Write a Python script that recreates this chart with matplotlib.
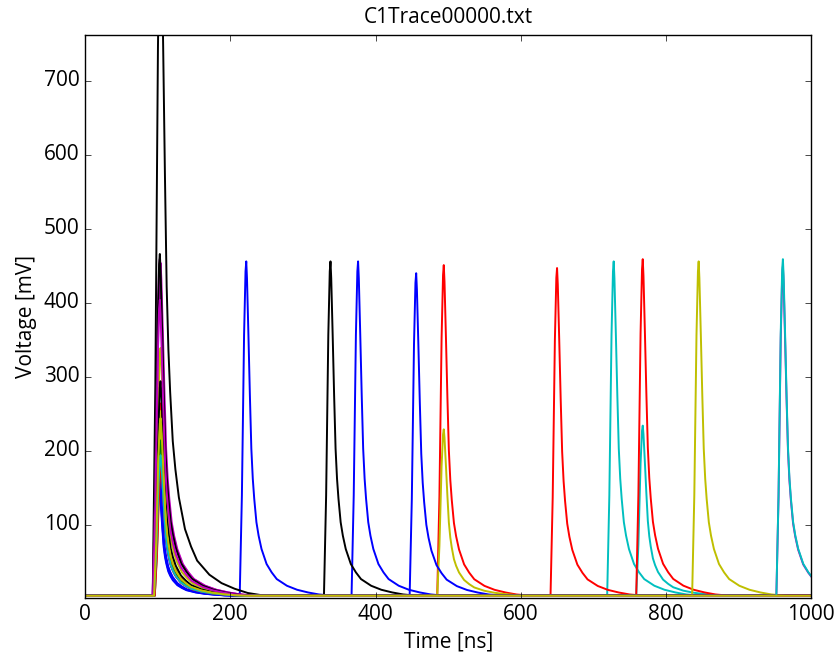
import numpy as np
import matplotlib
matplotlib.use('Agg')
import matplotlib.pyplot as plt

plt.style.use('classic')
plt.rcParams['font.family'] = ['Open Sans', 'DejaVu Sans']
plt.rcParams['font.size'] = 15

# pulse shape: time from peak [ns], fraction of peak height
shape_dt = [-9, -6, -3, -1, 0, 1, 3, 5, 7, 9, 11, 14, 17, 21, 28, 35, 42, 56, 70, 85, 100, 120]
shape_frac = [0, 0.3, 0.78, 0.97, 1.0, 0.95, 0.78, 0.6, 0.44, 0.35, 0.29, 0.22, 0.18,
              0.14, 0.095, 0.07, 0.05, 0.03, 0.018, 0.01, 0.004, 0]

colors = ['b', 'g', 'r', 'c', 'm', 'y', 'k']
n_traces = 27
baseline = 4.0

# first pulse (trigger) of every trace
first_time = [103, 104, 104, 104, 103, 104, 104,
              102, 104, 105, 103, 104, 103, 104,
              102, 104, 104, 105, 103, 104, 103,
              102, 104, 105, 104, 103, 104]
first_amp = [200, 240, 260, 240, 455, 335, 950,
             180, 220, 210, 230, 450, 250, 290,
             160, 200, 190, 200, 430, 230, 462,
             150, 210, 180, 190, 400, 240]
first_stretch = [1.0, 1.0, 1.0, 1.0, 1.1, 1.05, 1.2,
                 0.9, 1.0, 1.0, 1.0, 1.1, 1.0, 1.0,
                 0.9, 1.0, 1.0, 1.0, 1.1, 1.0, 1.05,
                 0.9, 1.0, 1.0, 1.0, 1.05, 1.0]

# later pulses: trace index, peak time [ns], height [mV]
after_trace = [0, 7, 14, 13, 2, 9, 16, 12, 19, 3, 10, 24, 4]
after_time = [222, 376, 456, 338, 494, 650, 768, 494, 845, 728, 768, 961, 961]
after_amp = [452, 452, 436, 452, 447, 443, 455, 225, 452, 452, 230, 455, 445]

fig = plt.figure(figsize=(8.37, 6.57), dpi=100)
ax = fig.add_axes([0.1016, 0.0898, 0.8676, 0.8569])

for i in range(n_traces):
    pulses = [(first_time[i], first_amp[i], first_stretch[i])]
    for k in range(len(after_trace)):
        if after_trace[k] == i:
            pulses.append((after_time[k], after_amp[k], 1.0))
    pulses.sort()
    xs = [0]
    ys = [baseline]
    for t0, amp, s in pulses:
        for dt, fr in zip(shape_dt, shape_frac):
            xs.append(t0 + dt * s)
            ys.append(baseline + amp * fr)
    xs.append(max(1000, xs[-1]))
    ys.append(baseline)
    ax.plot(xs, ys, color=colors[i % len(colors)], lw=1.4)

ax.set_xlim(0, 1000)
ax.set_ylim(1, 762)
ax.set_xticks([0, 200, 400, 600, 800, 1000])
ax.set_yticks([100, 200, 300, 400, 500, 600, 700])
ax.set_xlabel('Time [ns]')
ax.set_ylabel('Voltage [mV]')
ax.set_title('C1Trace00000.txt', fontsize=15, pad=9)

fig.savefig('out.png', dpi=100, facecolor='w')
